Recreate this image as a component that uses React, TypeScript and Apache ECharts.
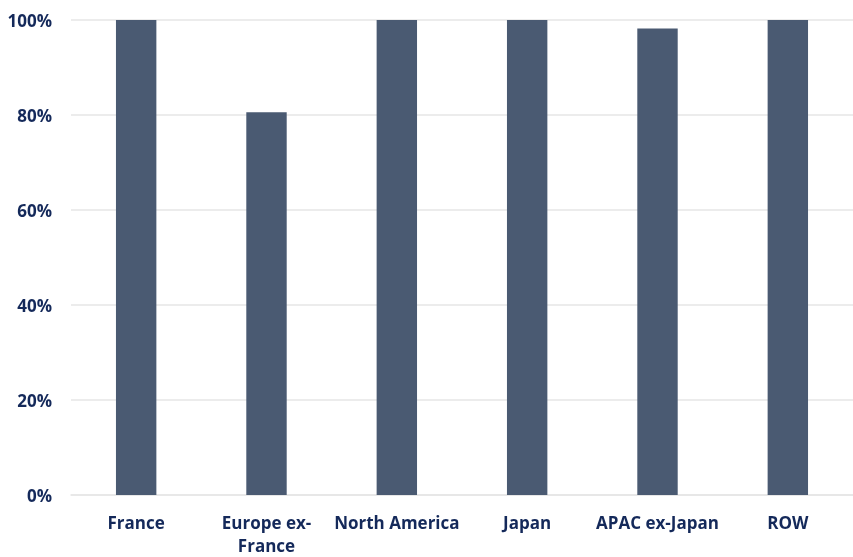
import React, { useEffect, useRef } from "react";
import * as echarts from "echarts";

const categories = ["France", "Europe ex-France", "North America", "Japan", "APAC ex-Japan", "ROW"];
const values = [100, 80.6, 100, 100, 98.2, 100];
const yTicks = [0, 20, 40, 60, 80, 100];

const labelColor = "#14295a";
const fontFamily = "'Open Sans', 'Noto Sans', sans-serif";

export default function App() {
  const ref = useRef<HTMLDivElement>(null);
  useEffect(() => {
    document.body.style.margin = "0";
    document.body.style.overflow = "hidden";
    const chart = echarts.init(ref.current!, null, { renderer: "svg", width: 853, height: 557 });
    chart.setOption({
      animation: false,
      grid: { left: 71, right: -12, top: 20, bottom: 58, containLabel: false },
      xAxis: {
        type: "category",
        data: categories,
        axisTick: { show: false },
        axisLine: { show: true, lineStyle: { color: "#e6e6e6", width: 1.5 } },
        axisLabel: {
          color: labelColor,
          fontWeight: "bold",
          fontSize: 17,
          fontFamily,
          margin: 16,
          lineHeight: 23,
          interval: 0,
          formatter: (v: string) => (v === "Europe ex-France" ? "Europe ex-\nFrance" : v),
        },
      },
      yAxis: {
        type: "value",
        min: yTicks[0],
        max: yTicks[yTicks.length - 1],
        interval: 20,
        axisLine: { show: false },
        axisTick: { show: false },
        splitLine: { lineStyle: { color: "#e6e6e6", width: 1.5 } },
        axisLabel: {
          color: labelColor,
          fontWeight: "bold",
          fontSize: 17,
          fontFamily,
          margin: 19,
          formatter: (v: number) => v + "%",
        },
      },
      series: [
        {
          type: "bar",
          data: values,
          barWidth: "31%",
          itemStyle: { color: "#4a5a72" },
        },
      ],
    });
    return () => chart.dispose();
  }, []);
  return (
    <div
      ref={ref}
      style={{ position: "fixed", left: 0, top: 0, width: 853, height: 557 }}
    />
  );
}
